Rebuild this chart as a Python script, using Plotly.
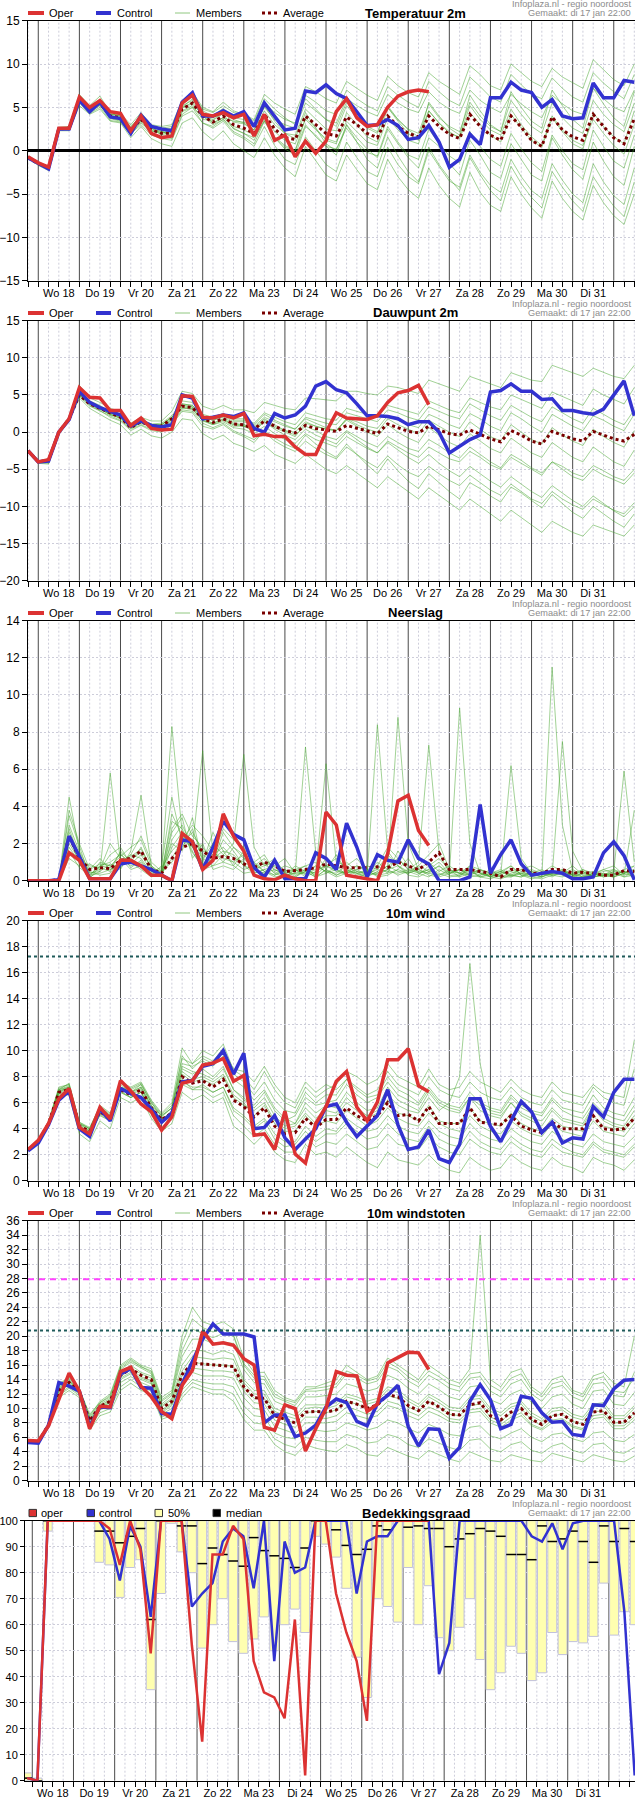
import plotly.graph_objects as go

W, H = 635, 1800

day_labels = ["Wo 18", "Do 19", "Vr 20", "Za 21", "Zo 22", "Ma 23", "Di 24",
              "Wo 25", "Do 26", "Vr 27", "Za 28", "Zo 29", "Ma 30", "Di 31"]
# uren sinds wo 18 jan 00:00, stappen van 6 uur
hours = list(range(-6, 349, 6))
cloud_hours = list(range(-3, 352, 6))

# ---------------- Temperatuur 2m ----------------
temp_oper = [-0.7, -1.4, -1.9, 2.6, 2.6, 6.2, 5.0, 5.8, 4.5, 4.3,
             2.3, 4.0, 2.0, 1.5, 1.7, 5.5, 6.4, 4.2, 4.0, 4.4,
             3.8, 4.2, 1.7, 4.2, 1.2, 1.8, -0.7, 1.1, -0.3, 1.1,
             4.5, 6.0, 3.8, 2.8, 3.0, 5.0, 6.3, 6.8, 7.0, 6.8]
temp_control = [-0.8, -1.5, -2.1, 2.5, 2.5, 5.8, 4.5, 5.6, 3.9, 3.7,
                2.0, 4.1, 2.8, 2.5, 2.3, 5.6, 6.7, 4.0, 4.0, 4.6,
                4.0, 4.5, 2.8, 5.5, 4.0, 2.4, 2.6, 6.9, 6.7, 7.6,
                6.6, 6.0, 4.5, 2.9, 3.0, 3.6, 2.9, 1.3, 1.5, 2.9,
                1.0, -1.9, -1.0, 1.9, 0.7, 6.1, 6.1, 7.9, 7.0, 6.7,
                5.0, 5.9, 4.0, 3.7, 3.8, 7.8, 6.1, 6.1, 8.1, 7.9]
temp_avg = [-0.8, -1.5, -2.0, 2.5, 2.6, 5.8, 4.8, 5.5, 4.0, 3.8,
            2.4, 3.6, 2.4, 2.0, 2.0, 4.8, 5.5, 4.0, 3.3, 4.0,
            3.0, 2.6, 2.0, 4.2, 2.5, 1.5, 1.3, 4.0, 3.0, 2.0,
            1.7, 3.9, 3.0, 2.0, 1.5, 4.0, 2.8, 2.0, 1.6, 4.0,
            2.8, 1.9, 1.4, 4.2, 2.8, 1.8, 1.2, 4.0, 2.7, 1.2,
            0.5, 3.9, 2.4, 1.6, 1.2, 4.2, 2.8, 1.5, 0.8, 3.7]
temp_members = [
    [-0.7, -1.4, -1.8, 2.7, 2.8, 6.5, 5.2, 6.3, 4.4, 4.3, 3.0, 4.4, 3.0, 2.8, 3.0, 5.8, 6.8, 5.0, 4.5, 5.6,
     4.6, 4.2, 3.6, 6.5, 5.5, 4.8, 4.2, 7.4, 6.8, 6.0, 5.5, 8.0, 7.2, 6.4, 5.8, 8.6, 7.5, 6.7, 6.2, 9.0,
     8.0, 7.2, 6.5, 9.8, 8.8, 7.5, 7.0, 10, 9.0, 8.0, 7.4, 9.5, 8.5, 7.8, 7.2, 10.5, 9.3, 8.2, 7.5, 10],
    [-0.9, -1.7, -2.3, 2.3, 2.3, 5.2, 4.2, 4.8, 3.4, 3.2, 1.5, 2.8, 1.4, 0.8, 0.5, 3.2, 3.8, 2.2, 1.2, 2.3,
     0.8, 0.0, -0.8, 1.5, -0.5, -2.0, -3.0, 0.5, -1.2, -2.8, -3.5, -0.5, -2.2, -3.8, -4.5, -1.0, -3.0, -4.5, -5.5, -2.0,
     -4.0, -5.5, -6.5, -2.5, -4.8, -6.3, -7.0, -3.0, -5.0, -6.6, -7.8, -3.5, -5.5, -7.0, -8.0, -4.0, -6.0, -7.5, -8.5, -5.0],
    [-0.8, -1.5, -2.0, 2.5, 2.5, 5.9, 4.6, 5.8, 3.8, 3.5, 2.2, 3.2, 2.2, 2.3, 1.6, 4.6, 5.2, 3.6, 3.5, 4.3,
     2.5, 2.0, 1.2, 3.6, 1.5, 0.2, -0.5, 2.8, 1.8, 0.5, -0.5, 3.0, 1.5, 0.2, -0.8, 2.5, 0.8, -0.8, -2.0, 1.5,
     0.5, -1.5, -2.8, 1.2, -0.5, -2.5, -3.2, 0.8, -1.0, -2.8, -3.5, 1.5, -0.5, -2.2, -3.3, 1.0, -1.2, -3.0, -4.0, 0.5],
    [-0.8, -1.6, -2.1, 2.6, 2.7, 6.0, 5.0, 5.2, 4.2, 4.1, 2.8, 4.0, 2.6, 2.0, 2.4, 5.2, 5.8, 4.4, 3.2, 3.8,
     3.4, 3.3, 2.8, 5.0, 3.6, 3.0, 2.6, 5.5, 4.6, 3.6, 3.2, 6.0, 5.2, 4.5, 4.0, 6.5, 5.5, 4.8, 4.4, 6.8,
     5.6, 4.8, 4.3, 7.0, 5.8, 5.0, 4.4, 6.5, 5.4, 4.5, 3.8, 6.4, 5.4, 4.6, 4.2, 7.2, 6.0, 5.0, 4.5, 7.0],
    [-0.8, -1.5, -2.0, 2.4, 2.6, 5.7, 4.9, 5.4, 4.0, 3.6, 2.4, 3.4, 2.6, 1.8, 1.8, 4.5, 5.0, 4.0, 3.0, 3.6,
     2.6, 2.0, 1.5, 3.4, 1.5, 0.4, 0.0, 3.0, 1.6, 0.5, 0.2, 2.6, 1.0, -0.2, -0.6, 2.8, 1.0, -0.5, -1.0, 2.5,
     0.8, -0.6, -1.4, 2.2, 0.5, -1.0, -1.8, 2.0, 0.2, -1.4, -2.4, 1.8, 0.0, -1.5, -2.2, 2.4, 0.5, -1.2, -2.0, 1.8],
    [-0.8, -1.5, -2.1, 2.5, 2.6, 5.8, 4.7, 5.6, 3.9, 3.9, 2.5, 3.8, 2.3, 2.1, 2.2, 5.0, 5.4, 4.1, 3.6, 4.4,
     3.3, 3.1, 2.4, 4.6, 3.0, 2.0, 1.8, 4.8, 3.6, 2.5, 2.3, 5.2, 3.8, 2.6, 2.0, 5.2, 3.6, 2.5, 2.0, 5.4,
     3.8, 2.8, 2.2, 5.6, 4.0, 2.8, 2.2, 5.8, 4.2, 2.8, 2.0, 5.5, 3.8, 2.6, 2.0, 5.8, 4.2, 3.0, 2.2, 5.5],
    [-0.8, -1.5, -2.0, 2.5, 2.5, 5.6, 4.4, 5.2, 3.7, 3.4, 2.0, 3.0, 1.8, 1.4, 1.2, 4.0, 4.6, 3.2, 2.6, 3.4,
     2.0, 1.4, 0.5, 2.8, 0.6, -1.0, -1.6, 1.6, 0.0, -1.6, -2.4, 1.0, -0.8, -2.4, -3.0, 0.4, -1.6, -3.0, -3.8, 0.0,
     -1.8, -3.5, -4.2, -0.5, -2.5, -4.0, -4.8, -1.0, -3.0, -4.6, -5.5, -1.5, -3.4, -5.0, -6.0, -1.5, -3.6, -5.2, -6.2, -2.0],
    [-0.7, -1.5, -1.9, 2.6, 2.7, 6.2, 5.0, 5.9, 4.3, 4.0, 2.6, 3.8, 2.7, 2.4, 2.6, 5.4, 6.3, 4.6, 4.0, 4.9,
     3.8, 3.6, 3.0, 5.6, 4.4, 3.6, 3.2, 6.4, 5.6, 4.6, 4.2, 7.0, 6.0, 5.2, 4.6, 7.4, 6.4, 5.6, 5.0, 8.0,
     6.8, 5.8, 5.2, 8.5, 7.4, 6.2, 5.6, 8.8, 7.6, 6.5, 6.0, 8.4, 7.2, 6.2, 5.6, 9.0, 7.8, 6.8, 6.0, 8.8],
    [-0.8, -1.6, -2.2, 2.4, 2.4, 5.5, 4.3, 5.0, 3.5, 3.3, 1.8, 3.4, 2.0, 1.6, 1.4, 4.2, 5.0, 3.2, 2.8, 3.6,
     2.2, 1.6, 0.8, 3.4, 1.6, 0.6, 0.0, 3.8, 2.6, 1.2, 0.8, 4.4, 3.0, 1.6, 1.0, 5.0, 3.4, 2.0, 1.2, 5.6,
     4.0, 2.6, 1.8, 6.4, 4.6, 3.0, 2.2, 6.8, 5.0, 3.4, 2.6, 7.0, 5.2, 3.6, 2.6, 7.2, 5.4, 3.8, 2.8, 6.8],
    [-0.8, -1.5, -2.0, 2.6, 2.6, 6.0, 5.0, 5.6, 4.1, 3.8, 2.3, 3.9, 2.6, 2.2, 2.0, 5.0, 6.0, 4.3, 3.8, 4.6,
     3.6, 3.2, 2.4, 5.2, 3.4, 2.0, 1.4, 4.4, 2.6, 0.8, 0.0, 3.0, 1.0, -1.0, -2.0, 1.6, -0.6, -2.4, -3.6, 0.4,
     -1.6, -3.2, -4.6, -0.8, -2.8, -4.6, -5.8, -1.8, -3.8, -5.4, -6.6, -2.4, -4.2, -5.8, -7.0, -3.0, -4.8, -6.4, -7.6, -3.6],
    [-0.8, -1.5, -2.0, 2.5, 2.6, 5.8, 4.8, 5.6, 4.0, 3.8, 2.4, 3.6, 2.4, 1.9, 2.1, 4.9, 5.6, 4.0, 3.2, 3.8,
     2.8, 2.4, 1.8, 4.0, 2.2, 1.2, 0.8, 3.6, 2.4, 1.4, 1.0, 3.4, 2.2, 1.0, 0.6, 3.8, 2.4, 1.2, 0.8, 4.6,
     3.2, 2.0, 1.6, 5.2, 3.6, 2.4, 1.8, 4.8, 3.0, 1.6, 0.6, 4.0, 2.4, 1.2, 0.6, 3.6, 2.0, 0.6, -0.4, 3.0],
    [-0.7, -1.5, -2.0, 2.6, 2.7, 6.1, 5.1, 5.8, 4.2, 4.0, 2.7, 4.1, 2.9, 2.6, 2.8, 5.6, 6.6, 4.8, 4.4, 5.2,
     4.4, 4.2, 3.4, 6.0, 4.8, 3.8, 3.0, 6.0, 4.8, 3.6, 2.8, 5.6, 4.0, 2.8, 2.2, 5.0, 3.6, 2.4, 1.6, 4.6,
     3.2, 2.2, 1.4, 4.4, 3.0, 1.8, 1.0, 4.2, 2.6, 1.2, 0.4, 3.8, 2.2, 0.8, 0.2, 4.4, 2.8, 1.6, 0.8, 4.6],
]

# ---------------- Dauwpunt 2m ----------------
dew_oper = [-2.5, -4.0, -3.7, 0.0, 1.8, 6.0, 4.7, 4.6, 2.9, 2.9,
            0.9, 1.9, 0.5, 0.3, 0.4, 4.9, 4.8, 2.0, 1.9, 2.3,
            1.9, 2.5, -0.5, -0.3, -0.6, -0.6, -2.0, -3.0, -3.0, 0.0,
            2.6, 1.9, 1.8, 1.7, 2.2, 4.0, 5.3, 5.6, 6.3, 3.7]
dew_control = [-2.5, -4.0, -3.9, 0.0, 1.7, 5.5, 4.0, 3.3, 2.8, 2.3,
               0.8, 1.5, 0.9, 0.7, 1.0, 5.0, 4.6, 1.8, 2.0, 2.3,
               2.1, 2.6, 0.5, 0.0, 2.5, 1.9, 2.3, 3.5, 6.2, 6.8,
               5.7, 5.3, 3.8, 2.2, 2.2, 2.1, 1.8, 1.0, 1.4, 1.4,
               0.0, -2.8, -1.9, -1.0, -0.4, 5.4, 5.6, 6.5, 5.5, 5.5,
               4.4, 4.5, 2.9, 2.9, 2.6, 2.4, 3.1, 5.0, 6.9, 2.2]
dew_avg = [-2.5, -4.0, -3.8, 0.0, 1.8, 5.0, 3.8, 3.2, 2.5, 2.0,
           0.6, 1.4, 0.8, 0.8, 1.8, 3.5, 3.3, 1.8, 1.3, 1.8,
           1.1, 1.0, 0.4, 1.5, 0.8, 0.2, -0.1, 0.9, 0.5, 0.3,
           0.1, 0.9, 0.5, 0.2, -0.2, 1.1, 0.6, 0.1, -0.1, 0.8,
           0.3, -0.2, -0.4, 0.3, -0.3, -0.9, -1.3, 0.2, -0.4, -1.2,
           -1.6, 0.1, -0.4, -0.9, -1.2, 0.1, -0.4, -0.9, -1.2, -0.3]
dew_members = [
    [-2.4, -3.9, -3.6, 0.2, 2.0, 6.3, 4.6, 4.0, 3.2, 2.8, 1.2, 2.0, 1.5, 1.5, 2.8, 5.5, 5.2, 3.5, 3.0, 3.6,
     3.0, 3.0, 2.6, 4.0, 3.6, 3.2, 3.0, 4.6, 4.5, 4.4, 4.2, 5.5, 5.5, 5.2, 5.0, 6.2, 6.0, 5.6, 5.2, 7.0,
     6.5, 6.0, 5.5, 7.5, 7.0, 6.5, 6.0, 8.0, 7.5, 7.0, 6.8, 9.0, 8.5, 8.0, 7.5, 8.6, 8.0, 7.5, 7.2, 9.0],
    [-2.6, -4.2, -4.3, -0.3, 1.5, 4.6, 3.2, 2.4, 1.6, 1.0, -0.4, 0.4, -0.5, -0.8, 0.0, 1.8, 1.6, -0.2, -1.0, -0.4,
     -1.5, -2.0, -2.6, -1.8, -3.0, -3.6, -4.2, -3.0, -4.0, -5.0, -5.6, -4.5, -5.5, -6.5, -7.5, -6.0, -7.0, -8.0, -9.0, -7.5,
     -8.5, -9.5, -10.5, -9.0, -10, -11, -12, -10.5, -11.5, -12.5, -13.5, -12, -12.8, -13.5, -14, -12.5, -13, -13.5, -14, -12.5],
    [-2.5, -4.0, -3.8, 0.0, 1.8, 5.2, 4.0, 3.4, 2.6, 2.2, 0.6, 1.5, 0.6, 0.6, 1.6, 3.8, 3.6, 2.0, 1.6, 2.0,
     1.2, 1.0, 0.6, 1.8, 1.0, 0.2, -0.4, 0.8, 0.2, -0.6, -1.0, 0.2, -0.6, -1.4, -2.0, -0.6, -1.4, -2.2, -2.6, -1.0,
     -1.8, -2.8, -3.5, -2.0, -3.0, -4.0, -4.8, -3.0, -3.8, -4.8, -5.5, -4.0, -4.6, -5.5, -6.0, -4.5, -5.2, -6.0, -6.5, -5.0],
    [-2.5, -4.0, -3.7, 0.1, 1.8, 5.4, 3.8, 3.2, 2.3, 2.0, 0.5, 1.3, 1.0, 1.0, 2.0, 3.3, 3.0, 1.6, 1.0, 1.6,
     0.8, 0.8, 0.2, 1.4, 0.6, 0.0, -0.6, 1.2, 0.8, 0.4, 0.2, 1.8, 1.4, 0.8, 0.5, 2.2, 1.6, 1.0, 0.6, 2.4,
     1.8, 1.0, 0.5, 2.5, 1.8, 0.8, 0.2, 2.6, 1.8, 0.8, 0.0, 2.4, 1.6, 0.8, 0.2, 2.2, 1.6, 0.8, 0.2, 2.4],
    [-2.5, -4.1, -4.0, 0.0, 1.7, 4.8, 3.5, 2.8, 2.2, 1.6, 0.4, 1.0, 0.4, 0.3, 1.2, 3.0, 2.8, 1.2, 0.6, 1.2,
     0.2, -0.4, -1.0, 0.0, -1.2, -2.0, -2.6, -1.2, -2.2, -3.0, -3.6, -2.0, -3.0, -4.0, -4.8, -3.2, -4.4, -5.4, -6.0, -4.6,
     -5.6, -6.5, -7.2, -5.8, -6.8, -7.8, -8.5, -7.0, -8.0, -9.0, -9.6, -8.0, -9.0, -9.8, -10.4, -9.0, -9.8, -10.5, -11, -9.5],
    [-2.4, -3.9, -3.7, 0.0, 1.9, 5.6, 4.2, 3.6, 2.7, 2.4, 0.8, 1.7, 1.1, 1.2, 2.2, 4.2, 4.0, 2.4, 2.0, 2.5,
     1.8, 1.8, 1.2, 2.6, 2.0, 1.4, 1.0, 2.6, 2.2, 1.8, 1.6, 3.2, 2.8, 2.4, 2.0, 3.6, 3.2, 2.8, 2.4, 4.2,
     3.6, 3.0, 2.6, 4.6, 4.0, 3.4, 3.0, 5.0, 4.4, 3.8, 3.2, 5.4, 4.8, 4.2, 3.6, 5.8, 5.0, 4.4, 3.8, 6.0],
    [-2.5, -4.0, -3.8, -0.1, 1.7, 5.0, 3.7, 3.0, 2.4, 1.8, 0.6, 1.2, 0.7, 0.6, 1.4, 3.2, 3.2, 1.5, 1.0, 1.4,
     0.6, 0.4, -0.2, 0.8, -0.2, -1.0, -1.5, -0.2, -1.0, -1.5, -2.0, -0.6, -1.4, -2.2, -2.8, -1.2, -2.0, -2.8, -3.4, -2.0,
     -2.8, -3.6, -4.0, -2.6, -3.4, -4.4, -5.0, -3.4, -4.2, -5.0, -5.8, -4.0, -5.0, -6.0, -6.5, -5.0, -5.8, -6.4, -7.0, -5.5],
    [-2.5, -4.0, -3.9, 0.0, 1.8, 5.0, 3.9, 3.3, 2.5, 2.0, 0.6, 1.4, 0.8, 0.8, 1.8, 3.6, 3.4, 1.8, 1.2, 1.8,
     1.0, 1.0, 0.4, 1.6, 0.8, 0.2, 0.0, 1.4, 0.8, 0.4, 0.2, 1.8, 1.0, 0.4, 0.0, 1.8, 1.0, 0.4, -0.2, 1.6,
     0.8, 0.0, -0.6, 1.4, 0.4, -0.6, -1.2, 1.0, 0.0, -1.0, -1.6, 0.6, -0.4, -1.2, -1.8, 0.4, -0.6, -1.4, -2.0, 0.2],
    [-2.5, -4.1, -4.2, -0.2, 1.6, 5.0, 3.6, 2.9, 2.0, 1.5, 0.2, 0.9, 0.2, 0.0, 1.0, 2.8, 2.6, 0.8, 0.4, 1.0,
     0.0, -0.6, -1.4, 0.2, -0.8, -1.6, -2.2, -0.4, -1.6, -2.6, -3.4, -1.6, -3.0, -4.4, -5.6, -3.6, -5.2, -6.6, -7.6, -5.6,
     -6.8, -8.0, -9.0, -6.8, -7.6, -8.6, -9.4, -7.4, -8.2, -9.2, -10.2, -8.4, -9.6, -10.8, -11.6, -10.0, -11.0, -12.0, -12.8, -11.0],
    [-2.5, -3.9, -3.6, 0.1, 1.9, 5.4, 4.1, 3.5, 2.6, 2.2, 0.7, 1.6, 1.0, 1.0, 2.0, 3.8, 3.6, 2.2, 1.8, 2.4,
     1.6, 1.6, 1.0, 2.4, 1.6, 1.0, 0.4, 1.8, 1.2, 0.6, 0.2, 1.6, 0.8, 0.0, -0.6, 1.0, 0.0, -0.8, -1.4, 0.6,
     -0.4, -1.4, -2.0, -0.2, -1.2, -2.2, -2.8, -0.8, -1.8, -2.8, -3.4, -1.4, -2.4, -3.4, -4.0, -2.0, -3.0, -4.0, -4.6, -2.4],
    [-2.5, -4.0, -3.8, 0.0, 1.8, 5.1, 3.8, 3.1, 2.4, 1.9, 0.6, 1.4, 0.7, 0.7, 1.7, 3.4, 3.2, 1.6, 1.2, 1.7,
     1.0, 0.8, 0.2, 1.4, 0.4, -0.4, -1.0, 0.4, -0.4, -1.0, -1.6, 0.0, -1.0, -2.0, -2.8, -1.4, -2.4, -3.4, -4.2, -3.0,
     -4.2, -5.2, -6.0, -4.6, -5.6, -6.6, -7.4, -6.0, -7.0, -8.0, -8.8, -7.2, -8.2, -9.2, -10.0, -8.6, -9.6, -10.6, -11.4, -10.0],
    [-2.4, -3.9, -3.7, 0.1, 1.9, 5.3, 4.0, 3.4, 2.6, 2.1, 0.7, 1.6, 1.0, 1.0, 2.0, 3.6, 3.4, 2.0, 1.6, 2.2,
     1.4, 1.4, 0.8, 2.0, 1.4, 0.8, 0.4, 2.0, 1.6, 1.2, 1.0, 2.6, 2.2, 1.8, 1.4, 3.0, 2.6, 2.0, 1.6, 3.4,
     2.8, 2.2, 1.8, 3.8, 3.0, 2.2, 1.6, 3.6, 2.8, 2.0, 1.4, 3.4, 2.6, 1.8, 1.2, 3.2, 2.4, 1.6, 1.0, 3.0],
]

# ---------------- Neerslag ----------------
rain_oper = [0, 0, 0, 0, 1.5, 1.1, 0.1, 0.1, 0.1, 1.1,
             1.1, 0.8, 0.3, 0.3, 0.0, 2.55, 2.1, 0.6, 1.1, 3.6,
             2.4, 1.6, 0.3, 0.1, 0.05, 0.3, 0.1, 0, 0, 3.7,
             3.0, 0.3, 0.2, 0.1, 0, 1.45, 4.3, 4.6, 2.7, 1.9]
rain_control = [0, 0, 0, 0.05, 2.4, 1.3, 0.1, 0.1, 0.1, 0.9,
                1.0, 0.8, 0.6, 0.3, 0, 2.2, 2.1, 0.6, 1.8, 3.2,
                2.5, 2.2, 0.7, 0.2, 1.1, 0.1, 0.1, 0.1, 1.5, 1.2,
                0.6, 3.1, 1.8, 0.2, 1.4, 1.1, 1.0, 2.2, 1.2, 0.9,
                0, 0, 0, 0.2, 4.1, 0.4, 1.4, 2.2, 0.9, 0.3,
                0.4, 0.5, 0.4, 0.1, 0.1, 0.2, 1.5, 2.1, 1.35, 0.05]
rain_avg = [0, 0, 0, 0.05, 2.4, 1.2, 0.6, 0.7, 0.65, 1.1,
            1.2, 1.6, 0.6, 0.4, 1.2, 1.8, 2.0, 1.6, 1.2, 1.3,
            1.2, 0.9, 0.7, 1.0, 0.8, 0.5, 0.55, 0.6, 0.7, 0.9,
            0.8, 0.7, 0.7, 0.7, 0.75, 0.7, 1.0, 0.8, 0.6, 1.0,
            1.5, 0.6, 0.6, 0.6, 0.5, 0.4, 0.2, 0.6, 0.6, 0.4,
            0.4, 0.6, 0.6, 0.4, 0.45, 0.4, 0.3, 0.3, 0.55, 0.5]
rain_members = [
    [0, 0, 0, 0, 2.2, 1.2, 0.3, 0.4, 0.6, 1.0, 1.4, 1.2, 0.4, 0.6, 8.3, 2.6, 1.5, 0.8, 1.2, 1.6,
     1.4, 0.8, 0.4, 0.6, 0.8, 0.3, 0.2, 0.5, 0.4, 1.2, 0.6, 0.3, 0.2, 0.4, 1.0, 0.6, 0.8, 0.3, 0.2, 0.5,
     0.8, 0.3, 0.2, 0.4, 0.6, 0.2, 0.1, 0.3, 0.6, 0.4, 0.2, 11.5, 3.0, 0.5, 0.2, 0.3, 0.4, 0.2, 0.6, 0.8],
    [0, 0, 0, 0, 3.0, 1.6, 0.1, 0.8, 1.0, 1.4, 1.0, 1.8, 0.6, 0.3, 2.2, 3.0, 1.8, 7.0, 1.5, 1.2,
     1.0, 0.6, 0.8, 1.2, 0.6, 0.4, 0.5, 0.8, 0.2, 0.6, 1.4, 0.5, 0.4, 0.2, 0.8, 1.8, 1.2, 0.6, 0.4, 0.2,
     0.6, 0.3, 9.3, 2.0, 0.4, 0.2, 0.5, 0.8, 0.3, 0.1, 0.2, 0.4, 0.6, 0.3, 0.1, 0.4, 0.6, 0.8, 0.3, 0.5],
    [0, 0, 0, 0, 1.8, 1.0, 0.6, 1.2, 0.6, 0.8, 1.4, 2.4, 1.0, 0.5, 1.0, 1.8, 2.8, 1.2, 0.8, 1.4,
     2.0, 6.8, 1.8, 0.8, 1.2, 0.4, 0.6, 0.3, 0.8, 0.5, 0.4, 0.8, 1.2, 0.5, 0.3, 0.6, 8.8, 2.0, 0.6, 0.4,
     0.8, 0.4, 0.3, 0.5, 0.2, 0.1, 0.3, 0.6, 0.4, 0.2, 0.1, 0.3, 0.4, 0.8, 0.3, 0.2, 0.4, 0.3, 0.5, 0.4],
    [0, 0, 0, 0, 2.6, 1.4, 0.4, 0.6, 2.0, 1.2, 0.8, 1.0, 0.3, 0.8, 4.5, 2.0, 2.6, 1.6, 1.4, 1.8,
     1.2, 1.0, 0.6, 0.4, 0.8, 1.2, 0.4, 7.2, 1.5, 0.6, 0.3, 0.5, 0.8, 0.6, 0.4, 0.6, 0.3, 0.5, 0.8, 1.4,
     2.0, 0.6, 0.2, 0.8, 0.4, 0.3, 0.2, 0.4, 0.6, 0.8, 0.5, 0.3, 7.5, 1.6, 0.5, 0.2, 0.3, 0.2, 0.4, 0.6],
    [0, 0, 0, 0, 3.5, 1.8, 0.2, 0.5, 5.8, 1.0, 1.2, 1.5, 0.8, 0.3, 2.6, 3.4, 1.2, 2.0, 0.6, 0.8,
     0.6, 1.2, 1.0, 0.5, 0.2, 0.3, 0.8, 0.5, 0.2, 0.4, 0.6, 1.0, 0.5, 0.3, 8.4, 1.6, 0.8, 0.4, 0.6, 1.0,
     0.5, 0.8, 0.4, 0.3, 0.6, 0.4, 0.2, 0.2, 0.5, 0.3, 0.4, 0.8, 0.5, 0.3, 0.6, 0.2, 0.3, 0.5, 0.4, 0.8],
    [0, 0, 0, 0, 2.0, 1.1, 0.8, 0.7, 0.5, 1.6, 1.0, 0.6, 0.2, 0.4, 1.2, 2.2, 1.8, 1.0, 2.6, 1.6,
     0.8, 0.4, 0.5, 1.0, 0.4, 0.6, 0.2, 0.6, 0.4, 6.3, 1.0, 0.8, 0.4, 0.2, 0.5, 0.8, 1.2, 0.6, 1.0, 7.3,
     1.5, 0.4, 0.6, 0.3, 0.5, 0.2, 0.4, 0.8, 0.3, 0.5, 0.3, 0.4, 0.6, 0.2, 0.4, 0.3, 0.5, 0.6, 0.2, 0.3],
    [0, 0, 0, 0, 2.4, 0.9, 0.2, 1.0, 0.8, 0.6, 1.6, 4.6, 0.8, 0.2, 1.8, 2.6, 2.2, 1.4, 1.0, 2.2,
     1.6, 0.8, 0.6, 0.8, 1.0, 0.3, 0.4, 0.4, 0.6, 0.8, 0.6, 0.4, 0.8, 0.5, 0.3, 0.4, 0.6, 1.2, 0.4, 0.6,
     0.3, 0.5, 0.4, 0.8, 0.6, 0.4, 0.3, 6.2, 1.2, 0.4, 0.2, 0.5, 0.4, 0.6, 0.3, 0.4, 0.2, 0.5, 5.9, 1.0],
    [0, 0, 0, 0, 4.5, 1.6, 0.5, 0.3, 0.4, 1.2, 0.6, 0.8, 0.4, 0.5, 3.2, 2.8, 1.6, 0.6, 0.8, 1.0,
     1.8, 1.4, 0.4, 0.6, 0.3, 0.5, 0.6, 0.4, 0.8, 0.5, 0.2, 0.4, 0.6, 0.8, 0.6, 1.4, 0.8, 0.5, 0.3, 0.8,
     1.2, 0.6, 0.4, 0.6, 0.2, 0.4, 0.5, 0.3, 0.4, 0.6, 0.4, 0.3, 0.5, 0.4, 0.2, 0.3, 0.6, 0.4, 0.3, 3.8],
    [0, 0, 0, 0, 3.8, 2.0, 0.6, 0.9, 0.8, 1.3, 1.8, 2.2, 0.8, 0.4, 2.8, 3.6, 2.4, 1.8, 1.0, 2.6,
     1.8, 1.2, 0.6, 0.4, 0.6, 0.3, 0.4, 0.6, 0.3, 0.8, 0.5, 0.4, 0.6, 0.3, 0.4, 0.8, 0.5, 0.4, 0.6, 0.3,
     0.2, 0.4, 0.6, 0.3, 0.2, 0.3, 0.5, 0.2, 0.4, 0.3, 0.2, 0.4, 0.3, 0.2, 0.4, 0.5, 0.3, 0.6, 0.4, 0.2],
    [0, 0, 0, 0, 1.2, 0.8, 0.9, 0.6, 1.4, 1.8, 0.9, 1.4, 0.5, 0.7, 1.6, 2.2, 3.0, 2.4, 1.6, 1.0,
     0.8, 1.6, 1.0, 1.4, 0.5, 0.8, 0.6, 0.2, 0.5, 0.8, 1.2, 0.6, 0.3, 0.6, 0.8, 0.4, 1.6, 0.8, 0.4, 0.6,
     1.0, 0.4, 0.6, 0.5, 0.3, 0.6, 0.2, 0.3, 0.2, 0.4, 0.6, 0.3, 0.2, 0.4, 0.6, 0.4, 0.2, 0.3, 0.5, 0.2],
    [0, 0, 0, 0, 2.8, 1.3, 0.4, 0.5, 0.9, 0.7, 1.3, 1.7, 0.7, 0.3, 3.6, 2.4, 2.0, 1.2, 2.0, 1.4,
     1.0, 1.4, 0.8, 0.9, 0.4, 0.2, 0.6, 0.8, 1.0, 0.4, 0.8, 0.3, 0.5, 0.4, 0.6, 0.5, 0.4, 0.6, 0.5, 0.4,
     0.3, 0.6, 0.4, 0.2, 0.3, 0.4, 0.6, 0.3, 0.2, 0.5, 0.3, 0.5, 0.4, 0.3, 0.2, 0.4, 0.3, 0.2, 0.4, 0.6],
    [0, 0, 0, 0, 1.6, 0.7, 0.3, 0.8, 0.7, 1.5, 0.7, 1.1, 0.3, 0.5, 2.0, 1.6, 3.4, 0.9, 1.4, 2.8,
     2.2, 1.8, 0.9, 0.5, 0.3, 0.6, 0.3, 0.5, 0.2, 0.6, 0.3, 0.6, 0.4, 0.6, 0.2, 0.3, 0.6, 0.4, 0.8, 0.5,
     0.4, 0.2, 0.3, 0.6, 0.4, 0.2, 0.4, 0.5, 0.3, 0.2, 0.4, 0.2, 0.5, 0.3, 0.5, 0.2, 0.3, 0.4, 0.2, 0.5],
]

# ---------------- 10m wind ----------------
wind_oper = [2.4, 3.1, 4.4, 6.3, 7.1, 4.1, 3.6, 5.65, 4.75, 7.7,
             6.9, 5.9, 5.3, 3.9, 4.9, 7.5, 7.7, 8.9, 9.05, 9.4,
             7.65, 8.1, 3.5, 3.6, 2.4, 5.35, 2.05, 1.35, 4.4, 5.7,
             7.65, 8.4, 5.65, 4.6, 6.05, 9.3, 9.3, 10.15, 7.3, 6.85]
wind_control = [2.3, 2.9, 4.3, 6.2, 6.9, 4.0, 3.4, 5.5, 4.6, 7.1,
                6.7, 6.4, 5.5, 4.5, 5.2, 7.6, 7.7, 8.8, 9.0, 10.0,
                8.2, 9.8, 4.0, 4.1, 5.0, 3.3, 2.4, 3.2, 4.0, 5.7,
                5.9, 4.5, 3.4, 4.2, 5.0, 7.0, 4.3, 2.4, 2.6, 3.9,
                1.7, 1.4, 2.8, 6.3, 6.3, 4.2, 3.0, 4.6, 6.1, 5.3,
                3.7, 4.5, 2.9, 3.3, 3.2, 5.7, 4.9, 6.8, 7.8, 7.8]
wind_avg = [2.4, 3.0, 4.4, 6.8, 7.0, 4.2, 3.8, 5.3, 4.8, 7.0,
            6.6, 7.0, 5.6, 4.7, 5.2, 8.0, 7.5, 7.7, 7.2, 7.8,
            6.2, 5.7, 4.9, 5.6, 4.2, 3.6, 3.7, 4.8, 4.1, 4.7,
            4.7, 5.6, 5.0, 4.6, 5.0, 6.0, 5.0, 5.1, 4.6, 5.7,
            4.4, 4.4, 4.4, 5.6, 4.5, 4.4, 4.3, 5.0, 4.2, 3.9,
            3.7, 4.5, 4.0, 4.0, 4.0, 5.0, 4.0, 3.9, 4.0, 4.8]
wind_members = [
    [2.3, 3.0, 4.4, 7.0, 7.5, 4.5, 4.0, 5.8, 5.2, 7.6, 7.2, 7.6, 6.2, 5.2, 6.0, 10.2, 9.0, 10.0, 9.6, 10.5,
     8.5, 8.0, 7.0, 8.4, 7.0, 6.0, 5.6, 7.2, 6.4, 7.0, 7.4, 8.4, 8.0, 7.4, 7.8, 9.0, 8.0, 7.6, 7.2, 8.6,
     7.4, 7.0, 7.2, 8.4, 7.6, 7.2, 6.8, 7.8, 7.0, 6.6, 6.4, 7.6, 6.8, 6.6, 6.4, 7.4, 6.8, 6.6, 6.4, 10.8],
    [2.4, 2.9, 4.2, 6.5, 6.6, 3.6, 3.0, 4.6, 4.0, 6.4, 6.0, 6.4, 4.8, 3.8, 4.4, 6.8, 6.2, 6.6, 6.0, 6.4,
     4.2, 3.6, 2.8, 3.6, 2.2, 1.6, 1.4, 2.8, 2.0, 2.2, 1.8, 2.6, 2.0, 1.4, 1.0, 2.2, 1.6, 1.4, 1.2, 2.0,
     1.2, 0.8, 0.6, 1.8, 1.2, 0.8, 1.0, 2.0, 1.4, 1.0, 0.8, 1.8, 1.2, 1.0, 0.6, 1.8, 1.4, 1.2, 0.8, 1.6],
    [2.4, 3.0, 4.4, 6.8, 7.2, 4.2, 3.8, 5.4, 4.8, 7.2, 6.8, 7.2, 5.8, 4.6, 5.4, 8.6, 8.2, 8.6, 8.0, 8.8,
     7.0, 6.4, 5.6, 6.4, 5.0, 4.2, 4.4, 5.6, 4.8, 5.4, 5.2, 6.4, 5.6, 5.0, 5.4, 6.6, 5.8, 5.4, 5.2, 6.4,
     5.4, 6.0, 8.0, 16.7, 9.0, 5.2, 5.0, 6.0, 5.2, 4.8, 4.6, 5.6, 4.8, 4.6, 4.4, 5.8, 4.8, 4.4, 4.2, 5.4],
    [2.4, 3.0, 4.6, 7.2, 7.4, 4.4, 4.0, 5.6, 5.0, 7.4, 6.8, 7.4, 6.0, 5.0, 5.6, 9.0, 8.8, 9.2, 8.8, 9.6,
     7.8, 7.2, 6.2, 7.0, 5.6, 4.8, 4.4, 6.0, 5.2, 5.8, 5.6, 6.8, 6.0, 5.4, 5.6, 7.2, 6.2, 5.8, 5.4, 6.8,
     5.8, 5.4, 5.2, 6.4, 5.4, 5.0, 4.8, 6.0, 5.0, 4.6, 4.2, 5.4, 4.6, 4.4, 4.2, 5.6, 4.6, 4.2, 4.0, 5.0],
    [2.3, 2.9, 4.3, 6.6, 6.8, 4.0, 3.6, 5.0, 4.6, 6.8, 6.4, 6.8, 5.4, 4.4, 5.0, 7.6, 7.2, 7.2, 6.8, 7.2,
     5.6, 5.0, 4.2, 4.8, 3.6, 3.0, 3.0, 4.2, 3.4, 4.0, 3.8, 4.8, 4.2, 3.8, 4.0, 5.0, 4.2, 3.8, 3.6, 4.6,
     3.8, 3.4, 3.2, 4.4, 3.6, 3.2, 3.0, 4.0, 3.4, 3.0, 2.8, 3.8, 3.2, 2.8, 2.6, 3.6, 3.0, 2.8, 2.6, 3.4],
    [2.4, 3.0, 4.5, 7.0, 7.2, 4.3, 3.9, 5.3, 4.9, 7.0, 6.6, 7.0, 5.6, 4.8, 5.2, 8.2, 7.6, 7.8, 7.4, 8.0,
     6.4, 5.8, 5.4, 6.0, 4.6, 4.0, 4.2, 5.2, 4.4, 5.0, 5.0, 6.0, 5.4, 4.8, 5.2, 6.2, 5.2, 5.0, 4.6, 5.8,
     4.6, 4.4, 4.4, 5.6, 4.6, 4.4, 4.2, 5.2, 4.4, 4.0, 3.8, 4.8, 4.2, 4.0, 3.8, 5.0, 4.2, 4.0, 3.8, 4.8],
    [2.3, 3.0, 4.4, 6.8, 7.0, 4.1, 3.6, 5.2, 4.7, 6.8, 6.4, 6.8, 5.4, 4.6, 5.0, 7.8, 7.0, 7.4, 6.8, 7.2,
     5.4, 4.8, 4.0, 4.6, 3.2, 2.6, 2.8, 3.8, 3.0, 3.6, 3.6, 4.4, 3.8, 3.2, 3.4, 4.4, 3.6, 3.2, 3.0, 4.2,
     3.2, 2.8, 2.6, 3.8, 3.0, 2.6, 2.4, 3.4, 2.8, 2.4, 2.2, 3.2, 2.6, 2.2, 2.0, 3.0, 2.4, 2.2, 2.0, 2.8],
    [2.4, 3.1, 4.4, 7.0, 7.3, 4.4, 4.0, 5.6, 5.0, 7.2, 6.8, 7.2, 5.8, 5.0, 5.6, 8.8, 8.4, 8.2, 7.8, 8.6,
     7.0, 6.2, 5.8, 6.8, 5.4, 4.6, 5.0, 6.4, 5.8, 6.0, 6.2, 7.4, 6.6, 6.0, 6.4, 7.6, 6.6, 6.2, 5.8, 7.0,
     6.0, 5.6, 5.4, 6.4, 5.8, 5.4, 5.2, 6.4, 5.6, 5.2, 5.0, 6.2, 5.4, 5.0, 4.8, 6.0, 5.2, 4.8, 4.6, 5.8],
    [2.4, 3.0, 4.5, 6.9, 7.2, 4.4, 3.8, 5.6, 4.9, 7.2, 7.0, 7.4, 6.0, 4.9, 5.6, 9.6, 8.6, 9.4, 9.0, 10.0,
     8.6, 8.4, 7.6, 8.8, 7.4, 6.4, 6.0, 7.6, 6.8, 7.4, 7.0, 7.8, 7.0, 6.4, 6.6, 8.0, 7.0, 6.6, 6.0, 7.2,
     6.2, 5.8, 5.6, 6.8, 6.0, 5.6, 5.4, 6.6, 5.8, 5.4, 5.2, 6.4, 5.6, 5.4, 5.2, 6.6, 5.6, 5.2, 5.0, 6.4],
    [2.3, 2.9, 4.3, 6.7, 6.9, 4.0, 3.5, 5.1, 4.6, 6.9, 6.4, 6.8, 5.4, 4.5, 5.0, 7.4, 7.0, 7.0, 6.4, 6.8,
     5.0, 4.2, 3.4, 4.0, 2.8, 2.2, 2.2, 3.4, 2.6, 3.0, 2.8, 3.6, 3.0, 2.4, 2.6, 3.6, 2.8, 2.6, 2.4, 3.4,
     2.6, 2.2, 2.0, 3.2, 2.6, 2.2, 2.0, 3.0, 2.4, 2.0, 1.8, 2.8, 2.2, 2.0, 1.8, 2.8, 2.2, 2.0, 1.8, 2.6],
    [2.4, 3.0, 4.4, 6.9, 7.1, 4.2, 3.7, 5.4, 4.8, 7.1, 6.7, 7.1, 5.7, 4.7, 5.3, 8.4, 7.8, 8.0, 7.6, 8.2,
     6.6, 6.0, 5.0, 5.8, 4.4, 3.8, 3.8, 5.0, 4.2, 4.6, 4.4, 5.4, 4.8, 4.2, 4.6, 5.6, 4.8, 4.4, 4.2, 5.2,
     4.4, 4.0, 3.8, 5.0, 4.2, 3.8, 3.6, 4.6, 4.0, 3.6, 3.4, 4.4, 3.8, 3.6, 3.4, 4.6, 3.8, 3.6, 3.4, 4.4],
    [2.3, 3.0, 4.5, 7.1, 7.4, 4.5, 4.1, 5.7, 5.1, 7.5, 7.1, 7.5, 6.1, 5.1, 5.8, 9.4, 9.0, 9.6, 9.2, 10.2,
     8.2, 7.6, 6.6, 7.6, 6.2, 5.4, 5.2, 6.8, 6.0, 6.6, 6.6, 7.8, 7.2, 6.6, 7.0, 8.4, 7.4, 7.0, 6.6, 8.0,
     7.0, 6.6, 6.4, 7.6, 6.8, 6.4, 6.2, 7.2, 6.4, 6.0, 5.8, 7.0, 6.2, 6.0, 5.8, 7.2, 6.4, 6.0, 5.8, 8.6],
]
wind_threshold = 17.25

# ---------------- 10m windstoten ----------------
gust_oper = [5.55, 5.5, 7.6, 11.3, 14.9, 12.4, 7.2, 10.3, 10.2, 15.1,
             15.7, 13.1, 11.6, 9.6, 8.6, 13.2, 15.3, 20.7, 18.9, 19.1,
             18.75, 16.9, 16.0, 7.4, 7.0, 10.5, 10.0, 4.1, 7.2, 10.0,
             15.1, 14.6, 14.5, 9.6, 10.6, 16.3, 17.0, 17.8, 17.7, 15.4]
gust_control = [5.3, 5.2, 7.7, 13.6, 13.1, 12.4, 7.5, 10.2, 10.1, 14.8,
                15.5, 12.9, 12.8, 9.3, 9.2, 13.4, 16.5, 19.6, 21.7, 20.3,
                20.3, 20.3, 19.9, 8.0, 9.1, 9.1, 6.1, 6.6, 7.7, 10.2,
                11.3, 10.8, 8.2, 7.6, 10.7, 11.8, 13.2, 7.5, 4.8, 7.2,
                7.1, 3.1, 4.6, 11.0, 13.3, 11.2, 7.2, 7.8, 11.7, 11.4,
                9.4, 8.1, 8.2, 6.4, 6.2, 10.5, 10.4, 12.7, 13.9, 14.0]
gust_avg = [5.5, 5.3, 7.8, 12.5, 13.6, 12.3, 8.3, 10.3, 11.0, 14.6,
            15.5, 14.6, 14.0, 10.0, 11.0, 14.7, 16.3, 16.2, 16.0, 16.0,
            15.8, 13.0, 11.5, 11.4, 9.0, 8.5, 8.0, 9.5, 9.6, 9.5,
            9.8, 11.0, 10.6, 10.0, 10.5, 11.9, 11.6, 10.4, 9.7, 11.0,
            10.2, 9.2, 9.1, 10.5, 10.8, 9.0, 8.4, 9.5, 10.0, 8.5,
            7.8, 9.0, 9.2, 8.2, 7.8, 9.5, 9.7, 8.1, 8.1, 9.4]
gust_members = [
    [5.4, 5.3, 7.8, 13.5, 14.2, 12.8, 9.0, 11.0, 12.0, 16.0, 17.0, 16.0, 15.5, 11.5, 12.5, 20.0, 24.0, 22.0, 21.5, 22.0,
     21.0, 17.0, 15.0, 15.0, 12.5, 11.5, 11.0, 13.0, 13.0, 13.5, 14.0, 16.0, 15.0, 14.0, 14.5, 17.0, 16.0, 15.0, 14.0, 16.0,
     15.0, 14.0, 13.5, 15.5, 34.0, 14.0, 13.0, 15.0, 15.5, 13.0, 12.0, 14.0, 14.5, 12.5, 12.0, 14.5, 15.0, 13.5, 13.0, 20.0],
    [5.6, 5.2, 7.6, 11.5, 12.5, 11.5, 7.0, 9.0, 9.5, 12.5, 13.5, 12.5, 12.0, 8.5, 9.0, 11.5, 13.0, 12.5, 12.0, 12.0,
     11.0, 8.5, 7.0, 7.0, 5.0, 4.0, 3.5, 5.0, 4.5, 4.2, 4.0, 5.0, 4.5, 3.6, 3.4, 4.6, 4.0, 3.4, 3.0, 4.2,
     3.6, 3.0, 2.6, 4.0, 3.4, 2.8, 2.6, 3.6, 3.2, 2.8, 2.6, 3.8, 3.4, 3.0, 2.6, 3.6, 3.2, 2.8, 2.6, 3.4],
    [5.5, 5.3, 7.8, 12.8, 13.8, 12.4, 8.4, 10.4, 11.2, 15.0, 16.0, 15.0, 14.5, 10.4, 11.4, 16.0, 18.0, 18.0, 17.5, 18.0,
     17.5, 14.0, 12.5, 12.5, 10.0, 9.5, 9.0, 10.5, 10.5, 10.5, 10.8, 12.0, 11.6, 11.0, 11.4, 13.0, 12.6, 11.4, 10.6, 12.0,
     11.2, 10.2, 10.0, 11.6, 11.8, 10.0, 9.4, 10.6, 11.0, 9.4, 8.6, 10.0, 10.2, 9.2, 8.8, 10.6, 10.8, 9.0, 9.0, 10.4],
    [5.5, 5.4, 7.7, 12.2, 13.4, 12.2, 8.0, 10.2, 10.8, 14.2, 15.0, 14.2, 13.6, 9.6, 10.6, 13.6, 15.0, 14.5, 14.5, 14.5,
     14.2, 11.5, 10.0, 9.8, 7.5, 7.0, 6.5, 8.0, 8.0, 8.0, 8.2, 9.4, 9.0, 8.6, 9.0, 10.4, 10.0, 9.0, 8.4, 9.6,
     9.0, 8.2, 8.0, 9.4, 9.6, 8.0, 7.4, 8.4, 9.0, 7.6, 7.0, 8.0, 8.4, 7.4, 7.0, 8.6, 8.8, 7.2, 7.2, 8.4],
    [5.5, 5.3, 7.9, 12.6, 13.6, 12.3, 8.2, 10.4, 11.0, 14.8, 15.6, 14.8, 14.2, 10.2, 11.2, 15.2, 17.2, 17.0, 16.8, 17.0,
     16.8, 13.6, 12.0, 12.0, 9.6, 9.0, 8.6, 10.0, 10.2, 10.0, 10.4, 11.6, 11.2, 10.6, 11.0, 12.6, 12.2, 11.0, 10.2, 11.6,
     10.8, 9.8, 9.6, 11.2, 11.4, 9.6, 9.0, 10.2, 10.6, 9.0, 8.2, 9.6, 9.8, 8.8, 8.4, 10.2, 10.4, 8.6, 8.6, 10.0],
    [5.5, 5.3, 7.8, 12.4, 13.4, 12.2, 8.4, 10.2, 10.8, 14.4, 15.4, 14.4, 13.8, 9.8, 10.8, 14.6, 16.4, 16.2, 16.0, 16.0,
     15.8, 13.0, 11.4, 11.4, 9.0, 8.4, 8.0, 9.4, 9.6, 9.4, 9.8, 11.0, 10.6, 10.0, 10.4, 11.8, 11.4, 10.2, 9.6, 11.0,
     10.2, 9.2, 9.0, 10.4, 10.6, 8.8, 8.2, 9.4, 10.0, 8.4, 7.6, 9.0, 9.2, 8.2, 7.8, 9.6, 9.6, 8.0, 8.0, 9.4],
    [5.6, 5.3, 7.7, 12.8, 14.0, 12.4, 8.6, 10.6, 11.4, 15.4, 16.4, 15.6, 14.8, 10.6, 11.8, 17.2, 19.6, 19.6, 19.0, 19.2,
     19.0, 15.4, 13.6, 13.4, 11.0, 10.4, 9.8, 11.6, 11.6, 11.8, 12.0, 13.4, 13.0, 12.4, 12.8, 14.6, 14.0, 12.8, 12.0, 13.4,
     12.6, 11.6, 11.2, 13.0, 13.2, 11.2, 10.6, 12.0, 12.6, 10.8, 10.0, 11.6, 12.0, 10.6, 10.0, 12.4, 12.6, 10.6, 10.4, 12.2],
    [5.4, 5.2, 7.6, 12.0, 13.0, 12.0, 7.8, 9.8, 10.4, 13.6, 14.4, 13.6, 13.0, 9.2, 10.0, 12.6, 14.0, 13.6, 13.4, 13.4,
     13.0, 10.4, 9.0, 8.8, 6.6, 6.0, 5.8, 7.0, 7.0, 6.8, 7.0, 8.0, 7.6, 7.0, 7.4, 8.4, 8.0, 7.2, 6.6, 7.8,
     7.2, 6.4, 6.2, 7.4, 7.6, 6.2, 5.8, 6.6, 7.2, 6.0, 5.4, 6.4, 6.6, 5.8, 5.4, 6.6, 6.8, 5.6, 5.4, 6.4],
    [5.5, 5.3, 7.8, 13.0, 14.0, 12.6, 8.8, 10.8, 11.6, 15.6, 16.6, 15.8, 15.0, 11.0, 12.0, 18.0, 21.0, 20.4, 19.8, 20.4,
     20.0, 16.0, 14.2, 14.0, 11.6, 11.0, 10.4, 12.4, 12.4, 12.6, 13.0, 14.8, 14.2, 13.4, 13.8, 15.8, 15.2, 13.8, 13.0, 14.6,
     13.8, 12.8, 12.4, 14.2, 14.4, 12.4, 11.6, 13.4, 14.0, 12.0, 11.0, 12.8, 13.2, 11.6, 11.0, 13.4, 13.6, 11.8, 11.6, 15.0],
    [5.6, 5.3, 7.7, 11.8, 12.8, 11.8, 7.4, 9.4, 10.0, 13.0, 14.0, 13.0, 12.4, 8.8, 9.4, 12.0, 13.6, 13.0, 12.6, 12.6,
     12.0, 9.4, 8.0, 7.8, 5.8, 5.0, 4.6, 6.0, 5.6, 5.4, 5.4, 6.4, 6.0, 5.2, 5.4, 6.4, 6.0, 5.0, 4.6, 5.8,
     5.2, 4.6, 4.2, 5.6, 5.8, 4.4, 4.0, 5.0, 5.4, 4.2, 3.8, 4.8, 5.2, 4.2, 3.8, 5.0, 5.2, 4.0, 3.8, 4.6],
    [5.5, 5.3, 7.8, 12.6, 13.8, 12.4, 8.0, 10.0, 10.6, 14.0, 14.8, 14.0, 13.4, 9.4, 10.4, 14.0, 15.6, 15.4, 15.2, 15.2,
     15.0, 12.4, 10.8, 10.6, 8.4, 7.8, 7.4, 8.8, 8.8, 8.6, 9.0, 10.2, 9.8, 9.2, 9.6, 11.0, 10.6, 9.6, 9.0, 10.2,
     9.6, 8.6, 8.4, 9.8, 10.0, 8.4, 7.8, 8.8, 9.4, 7.8, 7.2, 8.4, 8.6, 7.6, 7.2, 9.0, 9.2, 7.6, 7.6, 8.8],
    [5.4, 5.2, 7.9, 13.2, 14.4, 12.6, 9.2, 10.8, 11.8, 15.8, 16.8, 15.8, 15.2, 11.2, 12.2, 19.0, 22.4, 21.2, 20.6, 21.0,
     20.2, 16.2, 14.6, 14.4, 12.0, 11.2, 10.8, 12.6, 12.8, 13.0, 13.4, 15.2, 14.6, 13.8, 14.2, 16.4, 15.6, 14.4, 13.6, 15.2,
     14.4, 13.4, 13.0, 14.8, 15.0, 13.2, 12.4, 14.2, 14.8, 12.6, 11.6, 13.4, 13.8, 12.2, 11.6, 14.0, 14.4, 12.4, 12.2, 14.2],
]
gust_threshold_low = 20.8
gust_threshold_high = 27.9

# ---------------- Bedekkingsgraad ----------------
cloud_oper = [1, 0, 100, 100, 100, 100, 100, 100, 97, 83,
              100, 89, 49, 100, 100, 100, 52, 15, 87, 87,
              98, 93, 46, 34, 32, 24, 62, 2, 100, 100,
              72, 57, 46, 23, 100, 100, 100, 100, 100, 100]
cloud_control = [1, 0, 100, 100, 100, 100, 100, 100, 93, 77,
                 98, 90, 63, 100, 100, 100, 67, 72, 76, 92,
                 97, 94, 74, 100, 46, 92, 80, 82, 100, 100,
                 100, 100, 72, 92, 94, 94, 100, 100, 100, 100,
                 41, 53, 100, 100, 100, 100, 100, 100, 100, 94,
                 92, 99, 89, 99, 100, 100, 100, 100, 65, 2]
cloud_lo = [0, 0, 96, 100, 100, 100, 100, 84, 83, 70.5,
            82, 85, 35, 72, 99, 88, 80, 51, 60, 70,
            53.5, 49, 54.5, 63, 50, 60, 66, 57, 94, 91,
            86, 74, 47.5, 32, 70, 67, 61, 82, 60, 75,
            55, 50, 59, 70, 46.6, 35, 41.5, 51.7, 49, 38.5,
            41.5, 57, 48.5, 53.5, 53, 55.5, 76, 56, 65, 60]
cloud_hi = [3, 1, 100, 100, 100, 100, 100, 100, 100, 100,
            100, 100, 100, 100, 100, 100, 100, 100, 100, 100,
            100, 100, 100, 100, 100, 100, 100, 100, 100, 100,
            100, 100, 100, 100, 100, 100, 100, 100, 100, 100,
            100, 100, 100, 100, 100, 100, 100, 100, 100, 100,
            100, 100, 100, 100, 100, 100, 100, 100, 100, 100]
cloud_median = [1, 0, 100, 100, 100, 100, 100, 96, 96, 91.5,
                94, 97, 62, 100, 100, 98, 98, 83.5, 89.5, 87,
                84.5, 82.5, 93.5, 88.5, 86.5, 85.5, 82, 89.5, 100, 100,
                96.5, 90.5, 87, 89, 98, 96.5, 100, 97.5, 98, 97,
                97, 90, 93, 95, 97, 96, 94, 87, 87, 85,
                98, 92, 93, 96, 92, 84, 98, 92, 97, 92]

RED = "#dc3232"
BLUE = "#3232d0"
AVG = "#7a0000"
MEMBER = "rgba(70,165,45,0.5)"
GRID = "#cdcdda"
DAYLINE = "#4a4a4a"
FONT = "Liberation Sans, Arial, sans-serif"

fig = go.Figure()
shapes = []
annotations = []
layout = {}


def ypx(py):
    return 1 - py / H


def xpx(px):
    return px / W


def panel_top(p):
    return 20.7 + 300 * p


def add_axes(p, xr, left, yr, dtick, zero, tickhours, yfont=12):
    s = "" if p == 0 else str(p + 1)
    top = panel_top(p)
    bottom = top + 260
    texts = []
    for h in tickhours:
        k = (h - 12) // 24
        texts.append(day_labels[k] if (h - 12) % 24 == 0 and 0 <= k < len(day_labels) else "")
    layout["xaxis" + s] = dict(
        domain=[xpx(left), 1], range=xr, anchor="y" + s, tickmode="array",
        tickvals=tickhours, ticktext=texts, ticks="outside", ticklen=5, tickcolor="black",
        ticklabelstandoff=-3, showgrid=False,
        showline=True, linecolor="black", linewidth=1, mirror=True, zeroline=False,
        tickfont=dict(size=11, color="black", family=FONT), fixedrange=True, automargin=False)
    layout["yaxis" + s] = dict(
        domain=[ypx(bottom), ypx(top)], range=yr, anchor="x" + s, tickmode="linear",
        tick0=0, dtick=dtick, ticks="outside", ticklen=4 if yfont < 12 else 5, tickcolor="black",
        showgrid=True, gridcolor=GRID, griddash="2px,2px", gridwidth=1,
        showline=True, linecolor="black", linewidth=1,
        zeroline=zero, zerolinecolor="black", zerolinewidth=3,
        tickfont=dict(size=yfont, color="black", family=FONT), fixedrange=True, automargin=False)
    # verticale rasterlijnen: elke 6 uur gestippeld, middernacht donker
    for h in tickhours:
        if h % 24 == 0:
            ln = dict(color=DAYLINE, width=1)
        else:
            ln = dict(color=GRID, width=1, dash="2px,2px")
        shapes.append(dict(type="line", xref="x" + s, yref="y" + s + " domain",
                           x0=h, x1=h, y0=0, y1=1, layer="below", line=ln))
    return "x" + s, "y" + s


def add_header(p, title, items):
    top = panel_top(p)
    ly = ypx(top - 7.7)
    annotations.append(dict(x=xpx(415.5), y=ly, xref="paper", yref="paper", text="<b>" + title + "</b>",
                            showarrow=False, xanchor="center", yanchor="middle",
                            font=dict(size=13, color="black", family=FONT)))
    annotations.append(dict(x=xpx(633), y=ypx(top - 16.7), xref="paper", yref="paper",
                            text="Infoplaza.nl - regio noordoost", showarrow=False,
                            xanchor="right", yanchor="middle", font=dict(size=9.2, color="#8c8c8c", family=FONT)))
    annotations.append(dict(x=xpx(633), y=ypx(top - 7.4), xref="paper", yref="paper",
                            text="Gemaakt: di 17 jan 22:00", showarrow=False,
                            xanchor="right", yanchor="middle", font=dict(size=9.2, color="#8c8c8c", family=FONT)))
    for x0, x1, tx, label, kind, style in items:
        if kind == "line":
            shapes.append(dict(type="line", xref="paper", yref="paper", x0=xpx(x0), x1=xpx(x1),
                               y0=ly, y1=ly, line=style))
        else:
            shapes.append(dict(type="rect", xref="paper", yref="paper", x0=xpx(x0), x1=xpx(x1),
                               y0=ypx(top - 7.7 + 3.6), y1=ypx(top - 7.7 - 3.6),
                               fillcolor=style, line=dict(color="#333333", width=1)))
        annotations.append(dict(x=xpx(tx), y=ly, xref="paper", yref="paper", text=label,
                                showarrow=False, xanchor="left", yanchor="middle",
                                font=dict(size=11, color="black", family=FONT)))


line_items = [
    (28, 44, 47, "Oper", "line", dict(color=RED, width=4)),
    (96, 111, 115, "Control", "line", dict(color=BLUE, width=4)),
    (175, 190, 194, "Members", "line", dict(color="rgba(70,165,45,0.6)", width=1)),
    (262, 277, 281, "Average", "line", dict(color=AVG, width=3, dash="dot")),
]

panels = [
    ("Temperatuur 2m", temp_oper, temp_control, temp_avg, temp_members, [-15, 15], 5, True),
    ("Dauwpunt 2m", dew_oper, dew_control, dew_avg, dew_members, [-20, 15], 5, False),
    ("Neerslag", rain_oper, rain_control, rain_avg, rain_members, [0, 14], 2, False),
    ("10m wind", wind_oper, wind_control, wind_avg, wind_members, [0, 20], 2, False),
    ("10m windstoten", gust_oper, gust_control, gust_avg, gust_members, [0, 36], 2, False),
]

for p, (title, oper, control, avg, members, yr, dt, zero) in enumerate(panels):
    xa, ya = add_axes(p, [-6, 348.4], 28, yr, dt, zero, list(range(-6, 349, 6)))
    for m in members:
        fig.add_trace(go.Scatter(x=hours, y=m, mode="lines", xaxis=xa, yaxis=ya,
                                 line=dict(color=MEMBER, width=1), hoverinfo="skip"))
    fig.add_trace(go.Scatter(x=hours, y=avg, mode="lines", xaxis=xa, yaxis=ya,
                             line=dict(color=AVG, width=3, dash="dot")))
    fig.add_trace(go.Scatter(x=hours, y=control, mode="lines", xaxis=xa, yaxis=ya,
                             line=dict(color=BLUE, width=3.5)))
    fig.add_trace(go.Scatter(x=hours[:len(oper)], y=oper, mode="lines", xaxis=xa, yaxis=ya,
                             line=dict(color=RED, width=3.5)))
    add_header(p, title, line_items)

# drempellijnen wind / windstoten
shapes.append(dict(type="line", xref="paper", yref="y4", x0=xpx(28), x1=1, y0=wind_threshold, y1=wind_threshold,
                   line=dict(color="#1e5a5a", width=2, dash="dot")))
shapes.append(dict(type="line", xref="paper", yref="y5", x0=xpx(28), x1=1, y0=gust_threshold_low, y1=gust_threshold_low,
                   line=dict(color="#1e5a5a", width=2, dash="dot")))
shapes.append(dict(type="line", xref="paper", yref="y5", x0=xpx(28), x1=1, y0=gust_threshold_high, y1=gust_threshold_high,
                   line=dict(color="#ff44ff", width=2, dash="6px,5px")))

# bedekkingsgraad
xa, ya = add_axes(5, [-4.25, 351.2], 25, [0, 100], 10, False, list(range(0, 349, 6)), yfont=11)
fig.add_trace(go.Bar(x=cloud_hours, y=[h - l for h, l in zip(cloud_hi, cloud_lo)], base=cloud_lo,
                     width=5.2, xaxis=xa, yaxis=ya,
                     marker=dict(color="#ffffb0", line=dict(color="#c2c2dc", width=1))))
fig.add_trace(go.Scatter(x=cloud_hours, y=cloud_median, mode="markers", xaxis=xa, yaxis=ya,
                         marker=dict(symbol="line-ew", size=7, line=dict(color="black", width=1.5))))
fig.add_trace(go.Scatter(x=cloud_hours, y=cloud_control, mode="lines", xaxis=xa, yaxis=ya,
                         line=dict(color=BLUE, width=2.5)))
fig.add_trace(go.Scatter(x=cloud_hours[:len(cloud_oper)], y=cloud_oper, mode="lines", xaxis=xa, yaxis=ya,
                         line=dict(color=RED, width=2.5)))
add_header(5, "Bedekkingsgraad", [
    (29, 36.5, 39, "oper", "rect", RED),
    (87, 94.5, 97, "control", "rect", BLUE),
    (155, 162.5, 166, "50%", "rect", "#ffffb0"),
    (213, 220.5, 224, "median", "rect", "black"),
])

fig.update_layout(
    width=W, height=H, margin=dict(l=0, r=0, t=0, b=0),
    paper_bgcolor="white", plot_bgcolor="white", showlegend=False,
    font=dict(family=FONT, color="black"), hovermode=False,
    shapes=shapes, annotations=annotations, **layout)

fig.write_html("out.html", config={"displayModeBar": False},
               post_script="document.body.style.margin='0';document.body.style.overflow='hidden';")
